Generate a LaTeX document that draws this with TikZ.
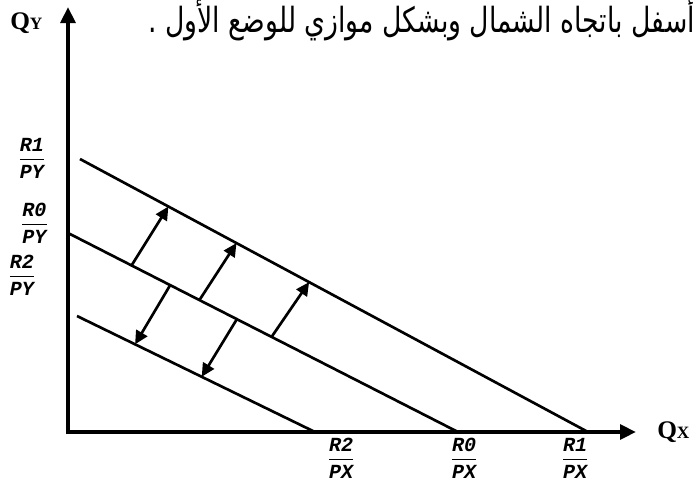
\documentclass[tikz,border=0pt]{standalone}
\usepackage{fontspec}
\setmainfont{Liberation Serif}
\newfontfamily\arabicfont[Script=Arabic]{DejaVu Sans}
\newfontfamily\ratiofont{Liberation Mono}
\TeXXeTstate=1
\usetikzlibrary{arrows.meta,calc}
\tikzset{axis/.style={line width=3.4pt,-{Triangle[length=12pt,width=11pt]}},budget/.style={line width=2pt},shiftarr/.style={line width=2pt,-{Triangle[length=10pt,width=9.5pt]}},ratio/.style={inner sep=0pt,font=\ratiofont\bfseries\itshape\fontsize{15}{17}\selectfont},qlab/.style={inner sep=0pt,anchor=base west,font=\bfseries\fontsize{19}{20}\selectfont}}
\newcommand{\ratiolab}[2]{$\displaystyle{\hbox{#1}\above1.2pt\hbox{#2}}$}
\newcommand{\qsub}[1]{{\fontsize{13}{13}\selectfont #1}}
\begin{document}
\begin{tikzpicture}[x=0.75pt,y=-0.75pt]
\useasboundingbox (0,0) rectangle (696,483);
\clip (0,0) rectangle (696,483);
\coordinate (O) at (68,432);
\coordinate (ytip) at (68,7);
\coordinate (xtip) at (636,432);
\draw[axis] ($(O)+(0,2)$) -- (ytip);
\draw[axis] ($(O)+(-2,0)$) -- (xtip);
% budget lines
\coordinate (r1s) at (80,159); \coordinate (r1e) at (588,432);
\coordinate (r0s) at (68,233); \coordinate (r0e) at (458,432);
\coordinate (r2s) at (77,316); \coordinate (r2e) at (315,432);
\foreach \l in {r1,r0,r2}{\draw[budget] (\l s) -- (\l e);}
% shifts
\foreach \a/\b in {.163/.174,.337/.308,.522/.451}{
\draw[shiftarr] ($(r0s)!\a!(r0e)$) -- ($(r1s)!\b!(r1e)$);}
\foreach \a/\b in {.262/.244,.433/.524}{
\draw[shiftarr] ($(r0s)!\a!(r0e)$) -- ($(r2s)!\b!(r2e)$);}
% intercepts
\foreach \n/\x/\y/\num/\den in {r1y/32/158/R1/PY,r0y/34.5/223/R0/PY,r2y/22/275/R2/PY,r2x/341/458/R2/PX,r0x/464/458/R0/PX,r1x/575/458/R1/PX}{
\node[ratio] (\n) at (\x,\y) {\ratiolab{\num}{\den}};}
\node[qlab] (qy) at (10,29) {Q\qsub{Y}};
\node[qlab] (qx) at (657,438) {Q\qsub{X}};
\node[anchor=base east,inner sep=0pt,font=\arabicfont\fontsize{20}{24}\selectfont] (note) at (695,32) {\scalebox{1}[1.3]{\beginR أسفل باتجاه الشمال وبشكل موازي للوضع الأول .\endR}};
\end{tikzpicture}
\end{document}
